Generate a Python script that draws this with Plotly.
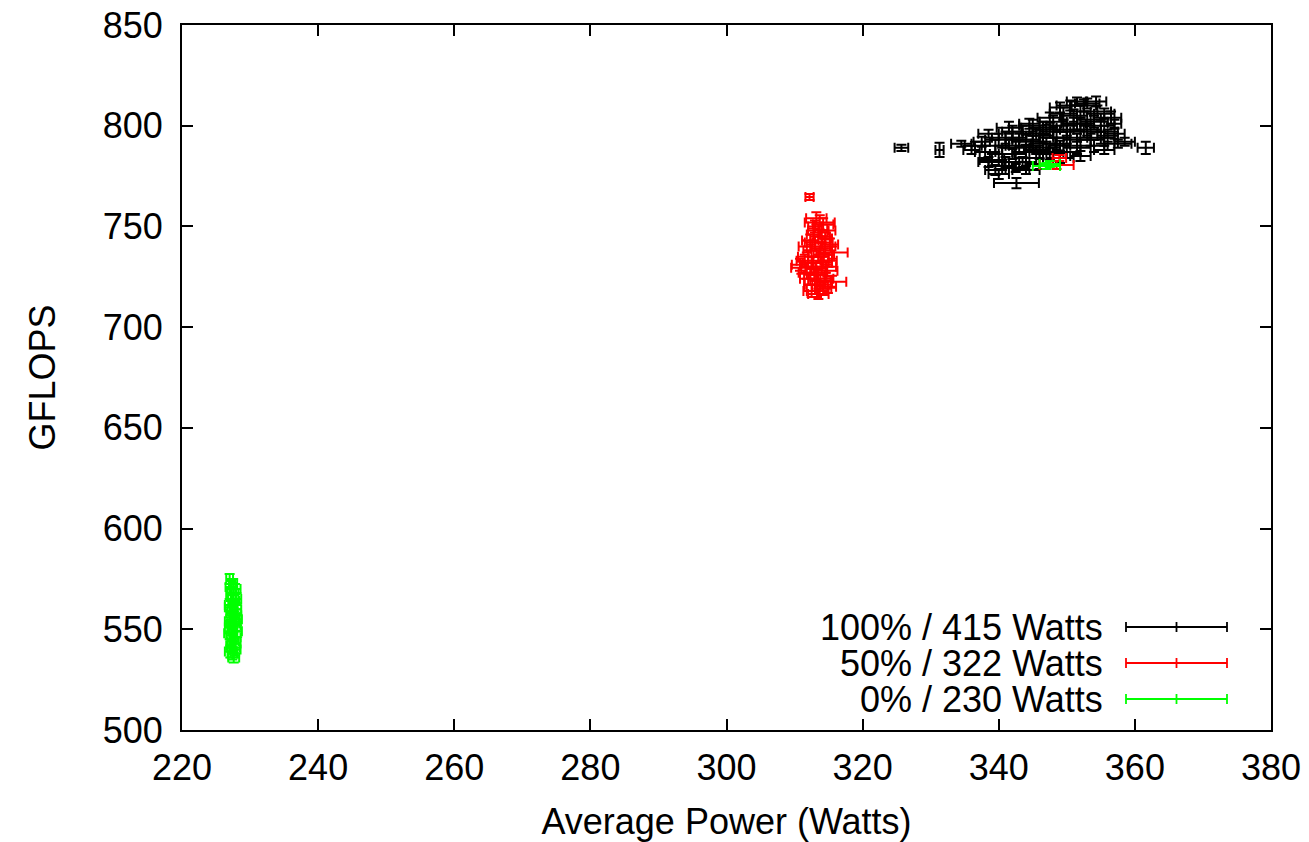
import plotly.graph_objects as go

# ---------------- data ----------------
# 100% / 415 Watts (black)
black_x = [325.7, 331.3, 334.5, 336.5, 337.5, 338.0, 339.0, 339.5, 340.5, 341.0, 342.6, 342.0,
           342.5, 343.0, 343.5, 344.0, 344.5, 345.0, 345.5, 346.0, 346.5, 347.0, 347.5, 348.0,
           348.5, 349.0, 349.5, 350.0, 350.5, 351.0, 351.5, 352.0, 352.5, 353.0, 353.5, 354.0,
           354.3, 355.0, 355.5, 356.0, 357.0, 357.5, 358.5, 361.6, 346.0, 344.0, 340.0, 338.5,
           341.5, 336.0, 352.0, 355.5, 350.0, 347.5,
           339.5, 340.5, 341.0, 343.5, 345.0, 346.5, 348.0, 349.5, 351.0, 352.5, 354.5, 356.5,
           355.0, 353.0, 351.5, 349.0, 347.0, 345.5, 343.0, 340.0, 342.0, 344.5, 350.0, 352.0,
           354.0, 357.0, 349.0, 351.5, 346.0, 342.5, 338.5, 344.0, 348.5, 353.5, 355.5]
black_y = [789, 788, 791, 790, 792, 787, 783, 778, 780, 794, 771.5, 786,
           779, 790, 797, 793, 784, 800, 788, 795, 791, 798, 786, 802,
           794, 790, 806, 798, 810, 801, 793, 807, 797, 811, 803, 790,
           812, 800, 806, 795, 801, 791, 792, 789, 781, 778, 776, 796,
           799, 788, 785, 788, 787, 804,
           790, 786, 782, 782, 792, 799, 797, 800, 805, 810, 807, 804,
           794, 798, 789, 784, 789, 796, 793, 793, 797, 801, 794, 801,
           802, 796, 809, 812, 787, 789, 782, 787, 791, 793, 797]
black_xerr = [1.0, 0.6, 1.5, 1.5, 1.2, 1.5, 1.8, 1.5, 2.0, 2.0, 3.3, 2.0,
              2.0, 2.0, 1.5, 2.0, 2.0, 2.0, 1.8, 2.0, 1.8, 2.0, 2.0, 2.0,
              2.0, 1.5, 2.0, 2.0, 2.0, 1.8, 2.0, 1.5, 2.0, 1.8, 2.0, 2.0,
              1.5, 2.0, 1.5, 1.5, 1.0, 2.0, 1.5, 1.2, 2.0, 2.0, 1.5, 1.5,
              1.8, 1.2, 1.5, 1.5, 2.0, 1.8,
              2.0, 1.8, 2.0, 2.0, 2.0, 2.0, 2.0, 2.0, 2.0, 1.8, 2.0, 1.5,
              2.0, 2.0, 2.0, 2.0, 2.0, 2.0, 2.0, 2.0, 1.5, 1.5, 2.0, 2.0,
              2.0, 1.5, 1.5, 1.5, 2.0, 2.0, 1.5, 2.0, 2.0, 2.0, 2.0]
black_yerr = [1.5, 3.5, 1.5, 2.0, 2.5, 3.0, 3.0, 2.5, 2.0, 3.0, 2.5, 2.5,
              2.0, 3.0, 3.0, 2.5, 3.0, 3.0, 2.0, 3.0, 3.0, 2.5, 3.0, 3.0,
              3.0, 2.5, 3.0, 3.0, 2.5, 3.0, 3.0, 3.0, 3.0, 2.5, 3.0, 3.0,
              2.5, 3.0, 2.5, 3.0, 2.0, 2.0, 2.0, 3.0, 2.5, 2.0, 2.5, 2.0,
              3.0, 2.0, 2.5, 2.0, 3.0, 2.5,
              3.0, 3.0, 2.5, 2.5, 3.0, 3.0, 3.0, 3.0, 3.0, 3.0, 3.0, 3.0,
              3.0, 3.0, 3.0, 2.5, 3.0, 3.0, 3.0, 3.0, 3.0, 2.5, 3.0, 3.0,
              3.0, 2.5, 2.5, 2.0, 3.0, 3.0, 2.5, 3.0, 3.0, 3.0, 3.0]

# 50% / 322 Watts (red)
red_x = [312.2, 313.7, 313.5, 314.0, 313.0, 314.5, 312.5, 315.5, 313.5, 311.5, 314.0, 311.0,
         312.8, 314.8, 313.5, 312.0, 315.5, 313.0, 314.2, 312.5, 313.5, 314.5, 312.8, 311.8,
         315.0, 312.0, 314.5, 313.0, 314.8, 348.5, 348.9,
         313.2, 314.2, 312.3, 313.8, 312.7, 314.3, 313.2, 311.8, 314.6, 313.8, 312.6, 314.9,
         313.3, 312.9, 314.1, 310.8, 315.2]
red_y = [764.6, 752, 748, 745, 742, 740, 738, 737, 735, 733, 732, 729.5,
         729, 728, 726, 724, 722.5, 721, 719, 718, 716.5, 744, 746, 740,
         733, 735, 724, 750, 748, 780.5, 784,
         754, 751, 743, 739, 732, 736, 730, 727, 730, 723, 721, 720,
         718, 726, 742, 731, 741]
red_xerr = [0.6, 2.2, 1.5, 1.2, 1.5, 1.5, 1.2, 2.3, 1.5, 1.2, 1.5, 1.5,
            1.2, 1.5, 1.2, 1.2, 2.1, 1.5, 1.2, 1.2, 1.5, 1.0, 1.0, 1.2,
            1.2, 1.5, 1.2, 1.0, 1.2, 2.5, 1.0,
            1.5, 1.5, 1.2, 1.5, 1.5, 1.5, 1.5, 1.2, 1.5, 1.5, 1.2, 1.2,
            1.5, 1.5, 1.5, 1.2, 1.2]
red_yerr = [1.5, 3.5, 3, 3, 3, 3.5, 3, 3, 3, 3, 3, 3,
            3, 3, 3, 3, 3, 3, 3, 3, 2.5, 3, 3, 3,
            3, 3, 3, 3, 3, 2, 1.5,
            3, 3, 3, 3, 3, 3, 3, 3, 3, 3, 3, 3,
            3, 3, 3, 3, 3]

# 0% / 230 Watts (green)
green_x = [227.0, 227.5, 227.8, 227.2, 227.6, 227.0, 227.9, 227.3, 227.7, 227.1, 227.8, 227.4,
           227.0, 227.9, 227.5, 227.2, 227.8, 227.4, 227.6, 227.3, 228.0, 226.9, 228.1, 347.0,
           347.5,
           227.5, 227.2, 227.9, 227.5, 227.3, 227.8, 227.1, 227.6, 228.0, 227.2]
green_y = [575, 573, 570, 567, 564, 562, 560, 558, 556, 554, 552, 550,
           548, 546, 544, 542, 540, 538, 536, 559, 565, 551, 549, 780,
           781,
           568, 561, 557, 553, 547, 543, 539, 541, 555, 571]
green_xerr = [0.5, 0.6, 0.8, 0.7, 0.8, 0.7, 0.8, 0.8, 0.7, 0.8, 0.8, 0.7,
              0.8, 0.7, 0.8, 0.7, 0.8, 0.7, 0.8, 0.6, 0.7, 0.6, 0.7, 2.0,
              1.5,
              0.8, 0.9, 0.8, 0.9, 0.8, 0.8, 0.8, 0.9, 0.8, 0.8]
green_yerr = [2.5, 2, 2.5, 3, 3, 3, 3, 3, 3, 3, 3, 3,
              3, 3, 3, 3, 3, 3, 2.5, 3, 3, 3, 3, 1.5,
              1.5,
              3, 3, 3, 3, 3, 3, 3, 3, 3, 3]

series_names = ["100% / 415 Watts", "50% / 322 Watts", "0% / 230 Watts"]
series_colors = ["#000000", "#ff0000", "#00ff00"]

x_ticks = [220, 240, 260, 280, 300, 320, 340, 360, 380]
y_ticks = [500, 550, 600, 650, 700, 750, 800, 850]

# ---------------- figure ----------------
W, H = 1309, 842
L, R, T, B = 182, 38, 25, 112
FONT = "Liberation Sans, Arial, Helvetica, sans-serif"
FS = 36

fig = go.Figure()
data = [(black_x, black_y, black_xerr, black_yerr),
        (red_x, red_y, red_xerr, red_yerr),
        (green_x, green_y, green_xerr, green_yerr)]
for (xs, ys, xe, ye), name, col in zip(data, series_names, series_colors):
    fig.add_trace(go.Scatter(
        x=xs, y=ys, mode="markers", name=name, showlegend=False,
        marker=dict(size=2, color=col),
        error_x=dict(type="data", array=xe, color=col, thickness=2, width=5),
        error_y=dict(type="data", array=ye, color=col, thickness=2, width=5),
    ))

axis_common = dict(showline=True, linecolor="black", linewidth=2, mirror="ticks",
                   ticks="inside", ticklen=11, tickwidth=1.5, tickcolor="black",
                   showgrid=False, zeroline=False, automargin=False,
                   tickfont=dict(family=FONT, size=FS, color="black"))

fig.update_xaxes(range=[220, 380], tickvals=x_ticks, ticklabelstandoff=5,
                 title=dict(text="Average Power (Watts)", font=dict(family=FONT, size=FS, color="black"),
                            standoff=26),
                 **axis_common)
fig.update_yaxes(range=[500, 850], tickvals=y_ticks, ticklabelstandoff=10,
                 title=dict(text="GFLOPS", font=dict(family=FONT, size=FS, color="black"),
                            standoff=36),
                 **axis_common)

# manual legend (gnuplot style: text left, sample on right)
pw, ph = W - L - R, H - T - B
def px(xp):
    return (xp - L) / pw
def py(yp):
    return (H - B - yp) / ph

rows_y = [627, 663, 699]
shapes = []
annotations = []
for name, col, ry in zip(series_names, series_colors, rows_y):
    annotations.append(dict(x=px(1105), y=py(ry), xref="paper", yref="paper",
                            text=name, showarrow=False, xanchor="right", yanchor="middle",
                            font=dict(family=FONT, size=FS, color="black")))
    lw = 1.8
    shapes.append(dict(type="line", xref="paper", yref="paper",
                       x0=px(1126), x1=px(1227), y0=py(ry), y1=py(ry),
                       line=dict(color=col, width=lw)))
    for cx in (1126, 1176.5, 1227):
        shapes.append(dict(type="line", xref="paper", yref="paper",
                           x0=px(cx), x1=px(cx), y0=py(ry - 5), y1=py(ry + 5),
                           line=dict(color=col, width=lw)))

fig.update_layout(width=W, height=H, margin=dict(l=L, r=R, t=T, b=B),
                  paper_bgcolor="white", plot_bgcolor="white",
                  shapes=shapes, annotations=annotations,
                  font=dict(family=FONT, size=FS, color="black"))

fig.write_html("out.html")
